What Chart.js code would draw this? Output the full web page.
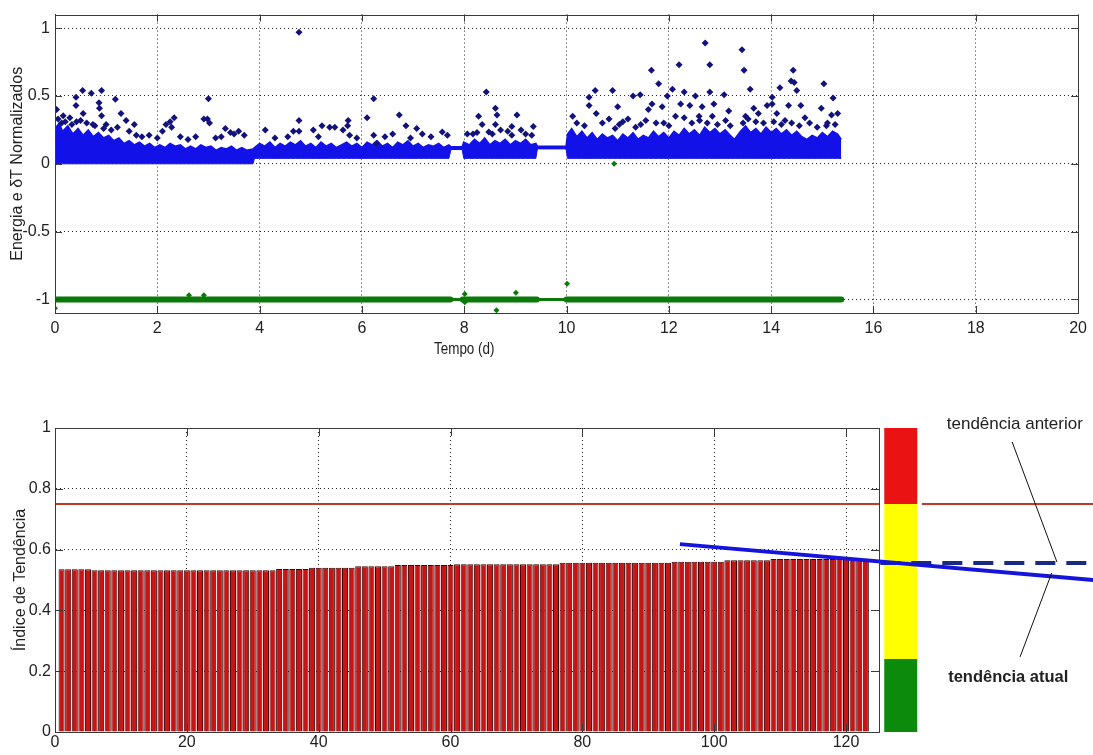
<!DOCTYPE html>
<html>
<head>
<meta charset="utf-8">
<script src="https://cdn.jsdelivr.net/npm/chart.js@4.4.1/dist/chart.umd.min.js"></script>
<style>
  html, body { margin: 0; padding: 0; background: #fff; }
  #wrap { position: relative; width: 1093px; height: 755px; overflow: hidden; }
  canvas { position: absolute; left: 0; }
</style>
</head>
<body>
<div id="wrap">
  <canvas id="topChart" width="1093" height="380" style="top:0"></canvas>
  <canvas id="bottomChart" width="1093" height="375" style="top:380px"></canvas>
</div>
<script>
// ---- top panel: normalized energy and deltaT vs time (days) ----
const topXTicks = [0, 2, 4, 6, 8, 10, 12, 14, 16, 18, 20];
const topYTicks = [-1, -0.5, 0, 0.5, 1];

// dense band of energy points, read as lower / upper edge
const bandTime = [
  0.00, 0.08, 0.15, 0.25, 0.35, 0.45, 0.55, 0.65, 0.75, 0.85,
  0.95, 1.05, 1.15, 1.25, 1.35, 1.45, 1.55, 1.65, 1.75, 1.85,
  1.95, 2.05, 2.15, 2.25, 2.35, 2.45, 2.55, 2.65, 2.75, 2.85,
  2.95, 3.05, 3.15, 3.25, 3.35, 3.45, 3.55, 3.65, 3.75, 3.87,
  3.90, 4.00, 4.10, 4.20, 4.30, 4.40, 4.50, 4.60, 4.70, 4.80,
  4.90, 5.00, 5.10, 5.20, 5.30, 5.40, 5.50, 5.60, 5.70, 5.80,
  5.90, 6.00, 6.10, 6.20, 6.30, 6.40, 6.50, 6.60, 6.70, 6.80,
  6.90, 7.00, 7.10, 7.20, 7.30, 7.40, 7.50, 7.60, 7.70,
  7.74, 7.96,
  7.99, 8.10, 8.20, 8.30, 8.40, 8.50, 8.60, 8.70, 8.80, 8.90,
  9.00, 9.10, 9.20, 9.30, 9.40,
  9.43, 9.99,
  10.02, 10.10, 10.20, 10.30, 10.40, 10.50, 10.60, 10.70, 10.80, 10.90,
  11.00, 11.10, 11.20, 11.30, 11.40, 11.50, 11.60, 11.70, 11.80, 11.90,
  12.00, 12.10, 12.20, 12.30, 12.40, 12.50, 12.60, 12.70, 12.80, 12.90,
  13.00, 13.10, 13.20, 13.28, 13.40, 13.50, 13.60, 13.70, 13.80, 13.90,
  14.00, 14.10, 14.20, 14.30, 14.40, 14.50, 14.60, 14.70, 14.80, 14.90,
  15.00, 15.10, 15.20, 15.30, 15.37
];
const bandLow = [
  0, 0, 0, 0, 0, 0, 0, 0, 0, 0,
  0, 0, 0, 0, 0, 0, 0, 0, 0, 0,
  0, 0, 0, 0, 0, 0, 0, 0, 0, 0,
  0, 0, 0, 0, 0, 0, 0, 0, 0, 0,
  0.04, 0.04, 0.04, 0.04, 0.04, 0.04, 0.04, 0.04, 0.04, 0.04,
  0.04, 0.04, 0.04, 0.04, 0.04, 0.04, 0.04, 0.04, 0.04, 0.04,
  0.04, 0.04, 0.04, 0.04, 0.04, 0.04, 0.04, 0.04, 0.04, 0.04,
  0.04, 0.04, 0.04, 0.04, 0.04, 0.04, 0.04, 0.04, 0.04,
  0.105, 0.105,
  0.04, 0.04, 0.04, 0.04, 0.04, 0.04, 0.04, 0.04, 0.04, 0.04,
  0.04, 0.04, 0.04, 0.04, 0.04,
  0.11, 0.11,
  0.04, 0.04, 0.04, 0.04, 0.04, 0.04, 0.04, 0.04, 0.04, 0.04,
  0.04, 0.04, 0.04, 0.04, 0.04, 0.04, 0.04, 0.04, 0.04, 0.04,
  0.04, 0.04, 0.04, 0.04, 0.04, 0.04, 0.04, 0.04, 0.04, 0.04,
  0.04, 0.04, 0.04, 0.04, 0.04, 0.04, 0.04, 0.04, 0.04, 0.04,
  0.04, 0.04, 0.04, 0.04, 0.04, 0.04, 0.04, 0.04, 0.04, 0.04,
  0.04, 0.04, 0.04, 0.04, 0.04
];
const bandHigh = [
  0.26, 0.30, 0.24, 0.28, 0.22, 0.26, 0.21, 0.25, 0.20, 0.23,
  0.19, 0.21, 0.17, 0.19, 0.15, 0.17, 0.14, 0.16, 0.13, 0.15,
  0.12, 0.14, 0.12, 0.15, 0.13, 0.14, 0.11, 0.13, 0.11, 0.14,
  0.12, 0.13, 0.10, 0.12, 0.11, 0.13, 0.10, 0.12, 0.10, 0.11,
  0.12, 0.15, 0.13, 0.16, 0.12, 0.15, 0.13, 0.16, 0.14, 0.17,
  0.13, 0.15, 0.12, 0.16, 0.13, 0.15, 0.12, 0.14, 0.16, 0.13,
  0.15, 0.12, 0.16, 0.14, 0.17, 0.13, 0.15, 0.12, 0.16, 0.14,
  0.17, 0.13, 0.15, 0.12, 0.14, 0.13, 0.15, 0.12, 0.14,
  0.125, 0.125,
  0.16, 0.14, 0.18, 0.15, 0.19, 0.14, 0.17, 0.15, 0.18, 0.14,
  0.17, 0.15, 0.18, 0.14, 0.15,
  0.13, 0.13,
  0.22, 0.26, 0.20, 0.24, 0.19, 0.23, 0.18, 0.22, 0.19, 0.21,
  0.17, 0.22, 0.19, 0.23, 0.18, 0.21, 0.19, 0.24, 0.20, 0.23,
  0.19, 0.24, 0.21, 0.26, 0.22, 0.25, 0.21, 0.27, 0.23, 0.26,
  0.22, 0.25, 0.21, 0.18, 0.24, 0.28, 0.23, 0.26, 0.22, 0.27,
  0.23, 0.26, 0.22, 0.25, 0.21, 0.24, 0.20, 0.18, 0.21, 0.19,
  0.23, 0.20, 0.24, 0.22, 0.18
];

// energy points standing out of the band [day, value]
const energyPeaks = [
  [0.03, 0.40], [0.06, 0.33], [0.13, 0.30], [0.16, 0.355], [0.20, 0.31], [0.29, 0.34], [0.33, 0.29],
  [0.41, 0.49], [0.41, 0.43], [0.42, 0.31], [0.50, 0.32], [0.54, 0.54], [0.55, 0.37], [0.62, 0.30],
  [0.71, 0.52], [0.74, 0.29], [0.78, 0.28], [0.86, 0.45], [0.87, 0.41], [0.91, 0.54], [0.91, 0.355],
  [0.95, 0.26], [1.00, 0.29], [1.10, 0.25], [1.18, 0.475], [1.22, 0.27], [1.29, 0.37], [1.39, 0.32],
  [1.45, 0.24], [1.55, 0.29], [1.59, 0.21], [1.70, 0.20], [1.84, 0.21], [2.00, 0.19], [2.10, 0.24],
  [2.17, 0.29], [2.25, 0.31], [2.28, 0.27], [2.33, 0.34], [2.45, 0.20], [2.60, 0.18], [2.75, 0.20],
  [2.91, 0.33], [2.98, 0.33], [3.00, 0.48], [3.02, 0.30], [3.14, 0.19], [3.25, 0.20], [3.33, 0.26],
  [3.43, 0.23], [3.50, 0.22], [3.59, 0.24], [3.70, 0.21], [4.11, 0.25], [4.30, 0.19], [4.55, 0.20],
  [4.66, 0.24], [4.77, 0.32], [4.77, 0.24], [4.77, 0.97], [5.05, 0.25], [5.15, 0.20], [5.22, 0.28],
  [5.37, 0.27], [5.47, 0.27], [5.63, 0.25], [5.72, 0.28], [5.73, 0.32], [5.76, 0.21], [5.90, 0.19],
  [6.10, 0.34], [6.23, 0.48], [6.23, 0.21], [6.28, 0.15], [6.45, 0.20], [6.60, 0.22], [6.73, 0.36],
  [6.86, 0.28], [6.95, 0.19], [7.07, 0.26], [7.18, 0.22], [7.35, 0.20], [7.57, 0.235], [7.67, 0.21],
  [8.06, 0.22], [8.17, 0.22], [8.25, 0.23], [8.28, 0.35], [8.35, 0.29], [8.43, 0.53], [8.48, 0.235],
  [8.55, 0.22], [8.61, 0.41], [8.61, 0.29], [8.64, 0.36], [8.71, 0.25], [8.85, 0.24], [8.93, 0.275],
  [8.93, 0.21], [9.03, 0.36], [9.11, 0.25], [9.20, 0.22], [9.32, 0.21], [9.35, 0.275],
  [10.12, 0.35], [10.20, 0.30], [10.35, 0.28], [10.44, 0.49], [10.44, 0.43], [10.56, 0.54], [10.58, 0.37],
  [10.70, 0.30], [10.83, 0.33], [10.90, 0.54], [10.95, 0.26], [11.00, 0.42], [11.03, 0.29], [11.10, 0.31],
  [11.20, 0.33], [11.30, 0.50], [11.35, 0.27], [11.44, 0.51], [11.45, 0.29], [11.55, 0.32], [11.60, 0.40],
  [11.66, 0.69], [11.67, 0.44], [11.75, 0.30], [11.80, 0.59], [11.87, 0.42], [11.90, 0.30], [11.97, 0.50],
  [12.00, 0.28], [12.07, 0.55], [12.13, 0.35], [12.20, 0.73], [12.23, 0.44], [12.30, 0.53], [12.30, 0.34],
  [12.41, 0.43], [12.45, 0.30], [12.52, 0.50], [12.59, 0.35], [12.60, 0.32], [12.65, 0.42], [12.71, 0.89],
  [12.75, 0.30], [12.80, 0.73], [12.80, 0.53], [12.85, 0.35], [12.88, 0.44], [12.95, 0.29], [13.08, 0.51],
  [13.11, 0.32], [13.17, 0.39], [13.20, 0.28], [13.43, 0.84], [13.45, 0.30], [13.47, 0.69], [13.50, 0.35],
  [13.55, 0.33], [13.59, 0.55], [13.66, 0.41], [13.70, 0.31], [13.75, 0.37], [13.85, 0.30], [13.92, 0.43],
  [14.02, 0.49], [14.02, 0.44], [14.05, 0.31], [14.11, 0.37], [14.17, 0.56], [14.20, 0.29], [14.27, 0.32],
  [14.34, 0.43], [14.39, 0.61], [14.40, 0.30], [14.43, 0.69], [14.45, 0.60], [14.50, 0.54], [14.55, 0.28],
  [14.58, 0.43], [14.66, 0.34], [14.75, 0.30], [14.90, 0.27], [14.98, 0.41], [15.03, 0.59], [15.08, 0.28],
  [15.10, 0.30], [15.18, 0.36], [15.21, 0.485], [15.25, 0.29], [15.30, 0.37]
];

// deltaT (normalized): flat at -1, thinner where the record is sparse
const deltaTLevel = -1;
const deltaTSegments = [[0, 7.73], [7.97, 9.42], [10.0, 15.37]];
const deltaTLinks = [[7.73, 7.97], [9.42, 10.0]];
const deltaTOutliers = [
  [0, -1.065], [2.62, -0.97], [2.91, -0.97], [8.01, -0.96], [8.01, -1.02],
  [8.63, -1.08], [9.01, -0.95], [10.01, -0.885], [10.93, 0.0]
];

// ---- bottom panel: trend index ----
const bottomXTicks = [0, 20, 40, 60, 80, 100, 120];
const bottomYTicks = [0, 0.2, 0.4, 0.6, 0.8, 1];
const trendIndex = [
  0.535, 0.535, 0.535, 0.535, 0.535, 0.532, 0.532, 0.532, 0.532, 0.532,
  0.532, 0.532, 0.532, 0.532, 0.532, 0.532, 0.532, 0.532, 0.532, 0.532,
  0.532, 0.532, 0.532, 0.532, 0.532, 0.532, 0.532, 0.532, 0.532, 0.532,
  0.532, 0.532, 0.532, 0.536, 0.536, 0.536, 0.536, 0.536, 0.540, 0.540,
  0.540, 0.540, 0.540, 0.540, 0.540, 0.545, 0.545, 0.545, 0.545, 0.545,
  0.545, 0.549, 0.549, 0.549, 0.549, 0.549, 0.549, 0.549, 0.549, 0.549,
  0.552, 0.552, 0.552, 0.552, 0.552, 0.552, 0.552, 0.552, 0.552, 0.552,
  0.552, 0.552, 0.552, 0.552, 0.552, 0.552, 0.557, 0.557, 0.557, 0.557,
  0.557, 0.557, 0.557, 0.557, 0.557, 0.557, 0.557, 0.557, 0.557, 0.557,
  0.557, 0.557, 0.557, 0.560, 0.560, 0.560, 0.560, 0.560, 0.560, 0.560,
  0.560, 0.565, 0.565, 0.565, 0.565, 0.565, 0.565, 0.565, 0.569, 0.569,
  0.569, 0.569, 0.569, 0.569, 0.569, 0.569, 0.569, 0.569, 0.569, 0.569,
  0.569, 0.569, 0.569
];
const alarmLimit = 0.75;
const zoneLimits = [0, 0.24, 0.75, 1];          // green / yellow / red
const zoneColors = ['#0b8a0b', '#ffff00', '#ea1212'];
const zoneX = 128.3;
const alarmRight = [131.5, 157.5];               // limit line again, right of the scale
const trendNow = [[94.8, 0.618], [157.5, 0.50]];
const trendPrev = [[125.2, 0.556], [157.5, 0.556]];
const notes = [
  { text: 'tendência anterior', at: [145.6, 1.013], bold: false, from: [145.2, 0.954], to: [152.0, 0.559] },
  { text: 'tendência atual', at: [144.6, 0.181], bold: true, from: [146.4, 0.247], to: [151.2, 0.523] }
];

// ---- styling ----
const regular = "'Liberation Sans', Arial, sans-serif";
const ink = '#222';
const bandBlue = '#1212e8';
const peakBlue = '#12127c';
const darkGreen = '#0b7a0b';

function pts(xs, ys) { return xs.map((x, i) => ({ x: x, y: ys[i] })); }
function pairs(list) { return list.map(p => ({ x: p[0], y: p[1] })); }
function fixedTicks(list) { return scale => { scale.ticks = list.map(v => ({ value: v })); }; }

function axis(ticks, min, max, size, pad) {
  return {
    type: 'linear', min: min, max: max, offset: false,
    afterBuildTicks: fixedTicks(ticks),
    afterFit: size,
    grid: { color: '#2a2a2a', lineWidth: 1, drawTicks: false, offset: false },
    border: { dash: [1, 3], color: '#3a3a3a' },
    ticks: { font: { family: regular, size: 16 }, color: ink, padding: pad, maxRotation: 0, autoSkip: false, callback: v => String(v) }
  };
}

// closed box with inward tick marks, like the original axes
function framePlugin(len) {
  return {
    id: 'frame',
    afterDatasetsDraw(chart) {
      const { ctx, chartArea: a, scales } = chart;
      ctx.save();
      ctx.strokeStyle = '#3a3a3a';
      ctx.lineWidth = 1;
      ctx.beginPath();
      scales.x.ticks.forEach(t => {
        const px = Math.round(scales.x.getPixelForValue(t.value)) + 0.5;
        ctx.moveTo(px, a.bottom); ctx.lineTo(px, a.bottom - len);
        ctx.moveTo(px, a.top); ctx.lineTo(px, a.top + len);
      });
      scales.y.ticks.forEach(t => {
        const py = Math.round(scales.y.getPixelForValue(t.value)) + 0.5;
        ctx.moveTo(a.left, py); ctx.lineTo(a.left + len, py);
        ctx.moveTo(a.right, py); ctx.lineTo(a.right - len, py);
      });
      ctx.stroke();
      ctx.strokeRect(Math.round(a.left) + 0.5, Math.round(a.top) + 0.5,
        Math.round(a.right - a.left), Math.round(a.bottom - a.top));
      ctx.restore();
    }
  };
}

function textPlugin(items) {
  return {
    id: 'texts',
    afterDraw(chart) {
      const ctx = chart.ctx;
      items.forEach(it => {
        const p = it.pos(chart);
        ctx.save();
        ctx.font = it.font;
        ctx.fillStyle = it.color || ink;
        ctx.textAlign = 'center';
        ctx.textBaseline = 'middle';
        ctx.translate(p[0], p[1]);
        if (it.rotate) ctx.rotate(-Math.PI / 2);
        if (it.squeeze) ctx.scale(it.squeeze, 1);
        ctx.fillText(it.text, 0, 0);
        ctx.restore();
      });
    }
  };
}

// ---- top chart ----
const thickData = [];
deltaTSegments.forEach(s => {
  thickData.push({ x: s[0], y: deltaTLevel }, { x: s[1], y: deltaTLevel }, { x: s[1], y: null });
});
const linkData = [];
deltaTLinks.forEach(s => {
  linkData.push({ x: s[0], y: deltaTLevel }, { x: s[1], y: deltaTLevel }, { x: s[1], y: null });
});

new Chart(document.getElementById('topChart'), {
  type: 'scatter',
  data: {
    datasets: [
      { type: 'scatter', label: 'Energia (picos)', data: pairs(energyPeaks), pointStyle: 'rectRot',
        pointRadius: 3.5, backgroundColor: peakBlue, borderWidth: 0, order: 0 },
      { type: 'scatter', label: 'δT (desvios)', data: pairs(deltaTOutliers), pointStyle: 'rectRot',
        pointRadius: 3, backgroundColor: darkGreen, borderWidth: 0, order: 0 },
      { type: 'line', label: 'δT', data: thickData, borderColor: darkGreen, borderWidth: 6,
        borderCapStyle: 'round', pointRadius: 0, spanGaps: false, order: 1 },
      { type: 'line', label: 'δT (esparso)', data: linkData, borderColor: darkGreen, borderWidth: 3,
        pointRadius: 0, spanGaps: false, order: 1 },
      { type: 'line', label: 'Energia min', data: pts(bandTime, bandLow), borderColor: bandBlue,
        borderWidth: 1, pointRadius: 0, fill: false, order: 2 },
      { type: 'line', label: 'Energia max', data: pts(bandTime, bandHigh), borderColor: bandBlue,
        backgroundColor: bandBlue, borderWidth: 1.5, pointRadius: 0, fill: '-1', order: 2 }
    ]
  },
  options: {
    responsive: false, animation: false, devicePixelRatio: 1, events: [],
    layout: { padding: { top: 10, right: 8, left: 0, bottom: 0 } },
    plugins: { legend: { display: false }, tooltip: { enabled: false } },
    scales: {
      x: axis(topXTicks, 0, 20, s => { s.height = 67; }, 6),
      y: axis(topYTicks, -1.1, 1.1, s => { s.width = 55; }, 5)
    }
  },
  plugins: [framePlugin(7), textPlugin([
    { text: 'Energia e δT Normalizados', font: '16px ' + regular, rotate: true,
      pos: c => [18, (c.chartArea.top + c.chartArea.bottom) / 2] },
    { text: 'Tempo (d)', font: '16px ' + regular, squeeze: 0.84,
      pos: c => [c.scales.x.getPixelForValue(8.0), 350] }
  ])]
});

// ---- bottom chart ----
const lineBase = { type: 'line', pointRadius: 0, clip: false, fill: false, tension: 0 };
const bottomSets = [];
notes.forEach(n => {
  bottomSets.push(Object.assign({}, lineBase, { label: n.text, data: pairs([n.from, n.to]),
    borderColor: '#111', borderWidth: 1, order: 0 }));
});
bottomSets.push(Object.assign({}, lineBase, { label: 'tendência atual', data: pairs(trendNow),
  borderColor: '#1414dc', borderWidth: 4, order: 1 }));
bottomSets.push(Object.assign({}, lineBase, { label: 'tendência anterior', data: pairs(trendPrev),
  borderColor: '#1a2a80', borderWidth: 4, borderDash: [20, 11], order: 2 }));
bottomSets.push(Object.assign({}, lineBase, { label: 'limite', data: [{ x: 0, y: alarmLimit }, { x: 125, y: alarmLimit }],
  borderColor: '#c23a24', borderWidth: 2, order: 3 }));
bottomSets.push(Object.assign({}, lineBase, { label: 'limite (dir.)',
  data: [{ x: alarmRight[0], y: alarmLimit }, { x: alarmRight[1], y: alarmLimit }],
  borderColor: '#c23a24', borderWidth: 2, order: 3 }));
zoneColors.forEach((c, i) => {
  bottomSets.push(Object.assign({}, lineBase, { label: 'zona ' + i,
    data: [{ x: zoneX, y: zoneLimits[i] }, { x: zoneX, y: zoneLimits[i + 1] }],
    borderColor: c, borderWidth: 33, borderCapStyle: 'butt', order: 5 }));
});
bottomSets.push({ type: 'bar', label: 'Índice de Tendência',
  data: trendIndex.map((v, i) => ({ x: i + 1, y: v })),
  backgroundColor: '#c81414', borderColor: '#3a0505', borderWidth: 1,
  barPercentage: 0.92, categoryPercentage: 1, order: 10 });

new Chart(document.getElementById('bottomChart'), {
  type: 'bar',
  data: { datasets: bottomSets },
  options: {
    responsive: false, animation: false, devicePixelRatio: 1, events: [],
    layout: { padding: { top: 48, right: 214, left: 0, bottom: 0 } },
    plugins: { legend: { display: false }, tooltip: { enabled: false } },
    scales: {
      x: axis(bottomXTicks, 0, 125, s => { s.height = 23; }, 1),
      y: axis(bottomYTicks, 0, 1, s => { s.width = 55; }, 4)
    }
  },
  plugins: [framePlugin(8), textPlugin([
    { text: 'Índice de Tendência', font: '16px ' + regular, rotate: true,
      pos: c => [21, (c.chartArea.top + c.chartArea.bottom) / 2] },
    { text: notes[0].text, font: '17px ' + regular,
      pos: c => [c.scales.x.getPixelForValue(notes[0].at[0]), c.scales.y.getPixelForValue(notes[0].at[1])] },
    { text: notes[1].text, font: 'bold 16.5px ' + regular,
      pos: c => [c.scales.x.getPixelForValue(notes[1].at[0]), c.scales.y.getPixelForValue(notes[1].at[1])] }
  ])]
});
</script>
</body>
</html>
